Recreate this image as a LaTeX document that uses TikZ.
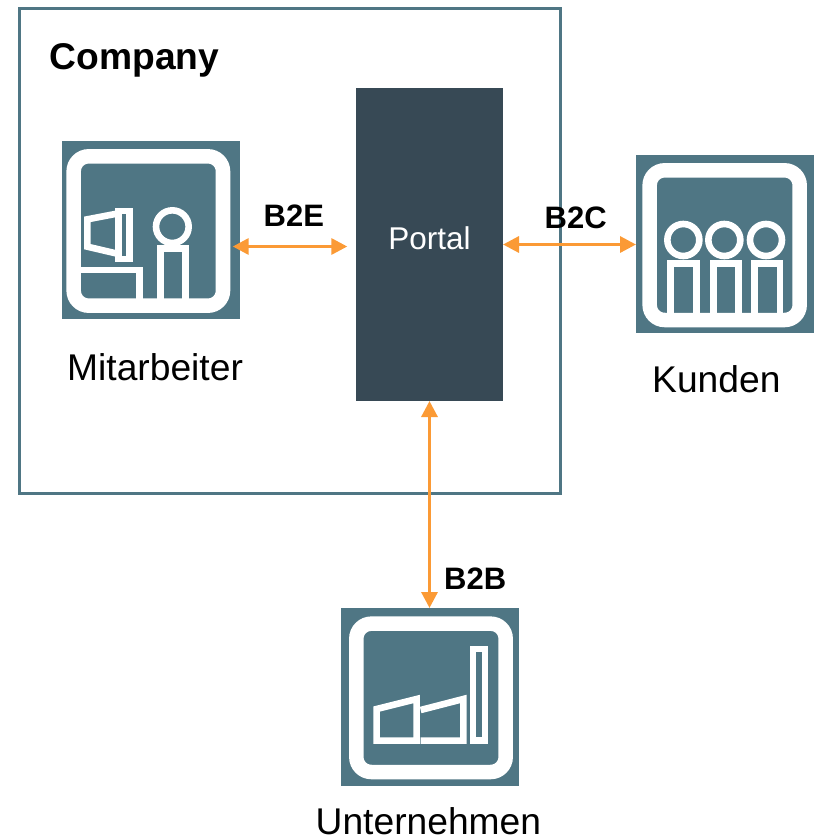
\documentclass[tikz,border=0pt]{standalone}
\usepackage{fontspec}
\setmainfont{Liberation Sans}
\usetikzlibrary{arrows.meta}
\definecolor{teal}{HTML}{4F7684}
\definecolor{slate}{HTML}{374955}
\definecolor{arrowc}{HTML}{FB9A35}
\tikzset{
  iconbox/.style={fill=teal,draw=none,minimum width=178pt,minimum height=178pt,inner sep=0pt,outer sep=0pt,anchor=north west},
  framew/.style={draw=white,line width=14.5pt,rounded corners=15pt},
  pen/.style={draw=white,line width=6.6pt,line join=miter},
  link/.style={draw=arrowc,line width=3.2pt,{Triangle[length=16pt,width=16pt]}-{Triangle[length=16pt,width=16pt]}},
  biglabel/.style={anchor=base west,inner sep=0pt,font=\fontsize{37.2}{40}\selectfont},
  boldlabel/.style={anchor=base west,inner sep=0pt,font=\fontsize{31}{34}\selectfont\bfseries},
  zoomed/.style={x=0.33333pt,y=-0.33333pt}
}
\begin{document}
\begin{tikzpicture}[x=1pt,y=-1pt]
\useasboundingbox (0,0) rectangle (815,838);
\node[draw=teal,line width=2.9pt,minimum width=541pt,minimum height=485pt,inner sep=0pt,outer sep=0pt,anchor=north west] (company) at (19.7,8.7) {};
\node[fill=slate,minimum width=147pt,minimum height=313pt,inner sep=0pt,outer sep=0pt,anchor=north west] (portal) at (356,88) {};
\node[anchor=base,inner sep=0pt,text=white,font=\fontsize{31.5}{34}\selectfont] (portaltext) at (429.5,249) {Portal};
\node[iconbox] (mit) at (62,141) {};
\node[iconbox] (kun) at (636,155) {};
\node[iconbox] (unt) at (341,608) {};
% Mitarbeiter icon
\begin{scope}[shift={(50,130)},zoomed]
  \draw[framew] (71,79) rectangle (519,527);
  \draw[pen] (206,250) -- (112,268) -- (112,350) -- (206,372);
  \draw[pen] (206,243) rectangle (239,387);
  \draw[pen] (88,420) -- (268,420) -- (268,510);
  \draw[pen] (367,290) circle[radius=49];
  \draw[pen] (331,510) -- (331,355) -- (406,355) -- (406,510);
\end{scope}
% Kunden icon
\begin{scope}[shift={(625,145)},zoomed]
  \draw[framew] (74,76) rectangle (524,525);
  \foreach \cx/\l/\r in {175/137/215,298/265/340,423/388/465}{
    \draw[pen] (\cx,285) circle[radius=48];
    \draw[pen] (\l,505) -- (\l,355) -- (\r,355) -- (\r,505);
  }
\end{scope}
% Unternehmen icon
\begin{scope}[shift={(330,595)},zoomed]
  \draw[framew] (79,86) rectangle (527,531);
  \draw[pen] (140,342) -- (260,312) -- (260,437) -- (140,437) -- cycle;
  \draw[pen] (272,345) -- (400,312) -- (400,437) -- (272,437);
  \draw[pen] (429,162) rectangle (465,437);
\end{scope}
% connectors
\draw[link,shorten <=-7.3pt,shorten >=8.7pt] ([yshift=-16.5pt]mit.east) -- ([yshift=-2pt]portal.west);
\draw[link] (portal.east) -- (portal.east -| kun.west);
\draw[link] (portal.south) -- (portal.south |- unt.north);
% labels
\node[anchor=base west,inner sep=0pt,font=\fontsize{37.2}{40}\selectfont\bfseries] (companylabel) at (49.5,69) {Company};
\node[biglabel] (mitlabel) at (67,380) {Mitarbeiter};
\node[biglabel] (kunlabel) at (652,392) {Kunden};
\node[biglabel] (untlabel) at (315.5,834) {Unternehmen};
\node[boldlabel] (b2e) at (263.5,226) {B2E};
\node[boldlabel] (b2c) at (544.5,228) {B2C};
\node[boldlabel] (b2b) at (444,589) {B2B};
\end{tikzpicture}
\end{document}
